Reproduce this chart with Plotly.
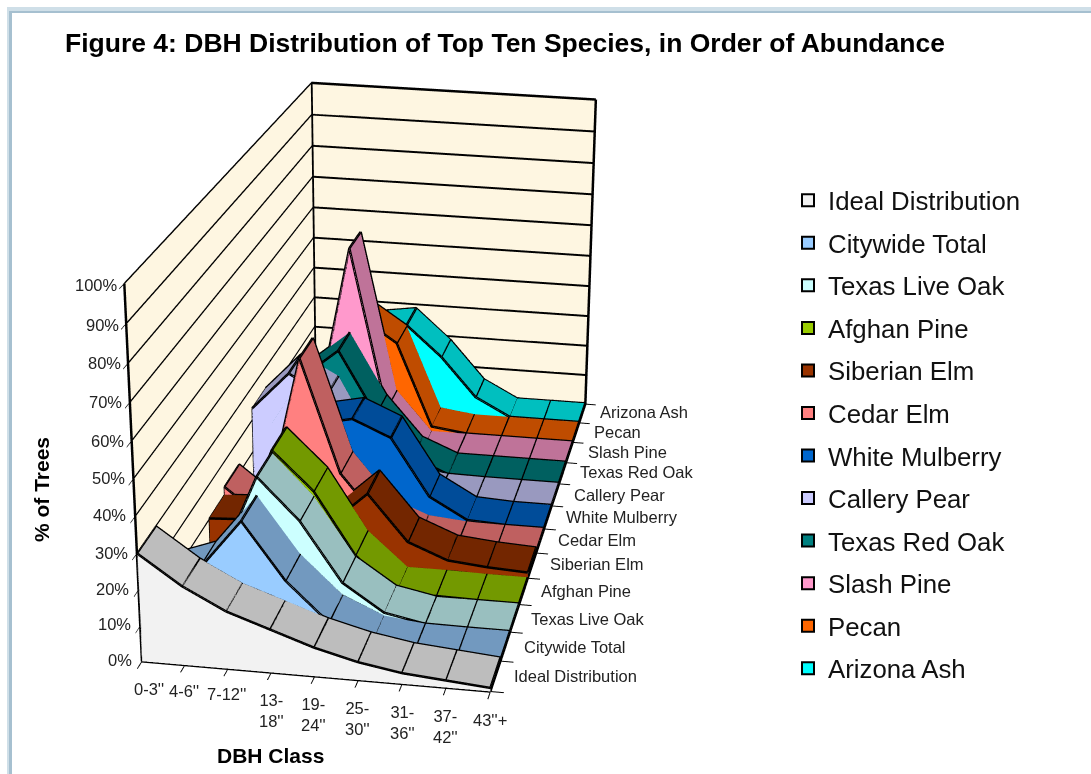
import plotly.graph_objects as go

# ---------- data (% of trees) ----------
categories = ["0-3''", "4-6''", "7-12''", "13-<br>18''", "19-<br>24''", "25-<br>30''", "31-<br>36''", "37-<br>42''", "43''+"]
ideal_distribution = [30, 22, 16, 12, 8, 5, 3, 2, 1]
citywide_total = [15, 19.2, 33.3, 17.7, 6.9, 1.8, 0.4, 0.3, 0.3]
texas_live_oak = [5, 12, 38.5, 27, 10.3, 2.6, 0.3, 0.3, 0.3]
afghan_pine = [1, 10, 39.1, 28.3, 10.6, 0.5, 0.5, 0.3, 0.3]
siberian_elm = [10.3, 11, 26, 11, 21.4, 8, 3.4, 2.3, 1.7]
cedar_elm = [12.8, 4, 52.9, 19.6, 6, 1.5, 0.5, 0.3, 0.3]
white_mulberry = [1, 8, 27, 29.4, 24.5, 7.3, 0.9, 0.3, 0.3]
callery_pear = [23.6, 35.3, 29.3, 9, 2, 0.5, 0.3, 0.3, 0.3]
texas_red_oak = [10, 28, 37.2, 17.9, 5, 0.3, 0.3, 0.3, 0.3]
slash_pine = [14, 8, 63.5, 13.2, 0.3, 0.3, 0.3, 0.3, 0.3]
pecan = [8, 22, 36, 28.6, 1.8, 0.3, 0.3, 0.3, 0.3]
arizona_ash = [4, 12, 27, 28.7, 18.9, 6.2, 0.3, 0.3, 0.3]

series_names = ["Ideal Distribution", "Citywide Total", "Texas Live Oak", "Afghan Pine", "Siberian Elm", "Cedar Elm",
                "White Mulberry", "Callery Pear", "Texas Red Oak", "Slash Pine", "Pecan", "Arizona Ash"]
series_values = [ideal_distribution, citywide_total, texas_live_oak, afghan_pine, siberian_elm, cedar_elm,
                 white_mulberry, callery_pear, texas_red_oak, slash_pine, pecan, arizona_ash]
percent_ticks = list(range(0, 101, 10))

# ---------- styles ----------
front = ["#F2F2F2", "#99CCFF", "#CCFFFF", "#99CC00", "#993300", "#FF8080", "#0066CC", "#CCCCFF", "#008080", "#FF99CC", "#FF6600", "#00FFFF"]
top = ["#BDBDBD", "#7299BF", "#99BFBF", "#739900", "#732600", "#BF6060", "#004C99", "#9999BF", "#006060", "#BF7399", "#BF4C00", "#00BFBF"]

# The canvas is taller than the window and shifted up so the scene's perspective matches the picture.
W, H, OFF = 1091, 2000, 500
def PX(x): return x / W
def PY(y): return 1 - (y + OFF) / H

fig = go.Figure()
n = len(categories)
for i, v in enumerate(series_values):
    xs = list(range(n)) * 4
    ys = [i] * (2 * n) + [i + 1] * (2 * n)
    zs = [0] * n + list(v) + [0] * n + list(v)
    F = lambda s, k: s * n + k
    I, J, K, C = [], [], [], []
    for k in range(n - 1):
        I += [F(0, k), F(0, k)]; J += [F(0, k + 1), F(1, k + 1)]; K += [F(1, k + 1), F(1, k)]; C += [front[i]] * 2
        I += [F(1, k), F(1, k)]; J += [F(1, k + 1), F(3, k + 1)]; K += [F(3, k + 1), F(3, k)]; C += [top[i]] * 2
    I += [F(0, 0), F(0, 0)]; J += [F(1, 0), F(3, 0)]; K += [F(3, 0), F(2, 0)]; C += [top[i]] * 2
    fig.add_trace(go.Mesh3d(x=xs, y=ys, z=zs, i=I, j=J, k=K, facecolor=C, flatshading=True,
                            lighting=dict(ambient=1, diffuse=0, specular=0, fresnel=0), hoverinfo="skip", showlegend=False))
    lx, ly, lz = [], [], []
    for y0 in (i, i + 1):
        lx += list(range(n)) + [None]; ly += [y0] * n + [None]; lz += list(v) + [None]
    for k in range(n):
        lx += [k, k, None]; ly += [i, i + 1, None]; lz += [v[k], v[k], None]
    lx += [0, 0, None]; ly += [i, i, None]; lz += [0, v[0], None]
    fig.add_trace(go.Scatter3d(x=lx, y=ly, z=lz, mode="lines", line=dict(color="black", width=5), hoverinfo="skip", showlegend=False))

xmax, ymax, zmax = n - 1, len(series_names), percent_ticks[-1]
fig.add_trace(go.Scatter3d(x=[0, 0, None, 0, 0, None, xmax, xmax, None, 0, xmax],
                           y=[0, 0, None, ymax, ymax, None, ymax, ymax, None, ymax, ymax],
                           z=[0, zmax, None, 0, zmax, None, 0, zmax, None, zmax, zmax],
                           mode="lines", line=dict(color="black", width=5), hoverinfo="skip", showlegend=False))

for i, nm in enumerate(series_names):
    fig.add_trace(go.Scatter(x=[None], y=[None], mode="markers", name=nm, legendgroup=nm,
                             marker=dict(symbol="square", size=15, color=front[i], line=dict(color="black", width=2))))

ax = dict(showbackground=True, backgroundcolor="#FEF6E1", showline=True, linecolor="black", linewidth=5, ticks="outside",
          tickcolor="black", tickwidth=2, zeroline=False, showspikes=False, title="", showticklabels=False)

anns = []
TF = dict(family="Liberation Sans, Arial", size=16.5, color="#222")
for nm, x, y in zip(series_names, [512, 522, 529, 539, 548, 556, 564, 572, 578, 586, 592, 598], [676, 647, 619, 591, 564, 540, 517, 495, 472, 452, 432, 412]):
    anns.append(dict(text=nm, x=PX(x), y=PY(y), xanchor="left", yanchor="middle"))
for ct, x, y in zip(categories, [149, 184, 226, 271, 313, 357, 402, 445, 490], [689, 691, 694, 710, 714, 718, 722, 726, 720]):
    anns.append(dict(text=ct, x=PX(x), y=PY(y), xanchor="center", yanchor="middle"))
for k, (pct, y) in enumerate(zip(percent_ticks, [660, 624, 589, 553, 515, 478, 441, 402, 363, 325, 285])):
    anns.append(dict(text=f"{pct}%", x=PX(134 - 1.4 * k), y=PY(y), xanchor="right", yanchor="middle"))
for an in anns:
    an.update(xref="paper", yref="paper", showarrow=False, font=TF)
BF = dict(family="Liberation Sans, Arial", size=21, color="black")
anns.append(dict(text="<b>DBH Class</b>", x=PX(270), y=PY(755), xref="paper", yref="paper", xanchor="center", yanchor="middle", showarrow=False, font=BF))
anns.append(dict(text="<b>% of Trees</b>", x=PX(41), y=PY(490), xref="paper", yref="paper", xanchor="center", yanchor="middle", showarrow=False, font=BF, textangle=-90))

def band(x0, x1, y0, y1, col):
    return dict(type="rect", xref="paper", yref="paper", x0=PX(x0), x1=PX(x1), y0=PY(y0), y1=PY(y1), fillcolor=col, line_width=0)
shapes = [band(7, 9, 7, 1500, "#CFDFE8"), band(7, W, 7, 11, "#CFDFE8"), band(9, 12, 11, 1500, "#A6C0D0"), band(9, W, 11, 13, "#A6C0D0")]

fig.update_layout(
    width=W, height=H, margin=dict(l=0, r=0, t=0, b=0), paper_bgcolor="white", plot_bgcolor="white",
    annotations=anns, shapes=shapes,
    title=dict(text="<b>Figure 4: DBH Distribution of Top Ten Species, in Order of Abundance</b>", x=PX(65), xanchor="left",
               y=PY(43), yanchor="middle", font=dict(family="Liberation Sans, Arial", size=26.5, color="black")),
    showlegend=True,
    legend=dict(x=PX(788), y=PY(177), xanchor="left", yanchor="top", font=dict(family="Liberation Sans, Arial", size=25.8, color="#111"),
                tracegroupgap=6, itemsizing="constant", bgcolor="rgba(0,0,0,0)"),
    xaxis=dict(visible=False), yaxis=dict(visible=False),
    scene=dict(domain=dict(x=[0, 1], y=[0, 1]), aspectmode="manual", aspectratio=dict(x=0.8879, y=1.9851, z=1),
               camera=dict(eye=dict(x=1.2139, y=-6.2236, z=2.3382), center=dict(x=0.4586, y=-0.104, z=-0.3637), up=dict(x=-0.0768, y=0.3948, z=0.9156)),
               xaxis=dict(ax, range=[0, xmax], tickvals=list(range(n)), showgrid=False, ticklen=10),
               yaxis=dict(ax, range=[0, ymax], tickvals=list(range(ymax + 1)), showgrid=False, ticklen=12),
               zaxis=dict(ax, range=[0, zmax], tickvals=percent_ticks, showgrid=True, gridcolor="black", gridwidth=4, ticklen=8)))

POST = f"document.documentElement.style.overflow='hidden';document.body.style.overflow='hidden';document.body.style.margin='0';var g=document.querySelector('.plotly-graph-div');g.style.marginTop='-{OFF}px';"
fig.write_html("out.html", post_script=POST)
